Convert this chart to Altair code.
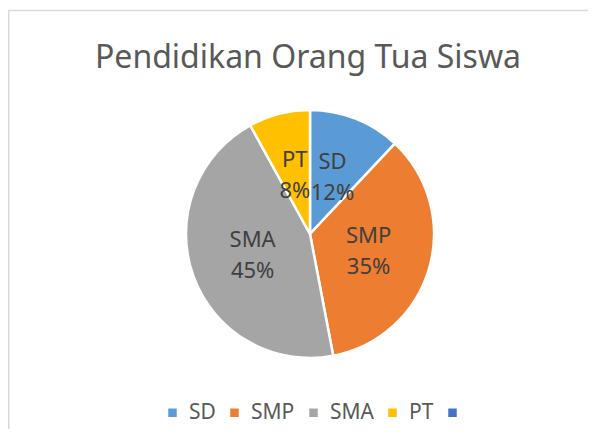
import altair as alt
import pandas as pd

# Data
categories = ["SD", "SMP", "SMA", "PT"]
values = [12, 35, 45, 8]
percent_labels = ["12%", "35%", "45%", "8%"]
legend_domain = ["SD", "SMP", "SMA", "PT", " "]
colors = ["#5B9BD5", "#ED7D31", "#A5A5A5", "#FFC000", "#4472C4"]

df = pd.DataFrame({
    "category": categories,
    "value": values,
    "idx": list(range(len(categories))),
    "label": [f"{c}\n{p}" for c, p in zip(categories, percent_labels)],
})

CX, CY = 302, 226
FONT = "Noto Sans"

base = alt.Chart(df).encode(
    theta=alt.Theta("value:Q", stack=True),
    order=alt.Order("idx:Q"),
)

arcs = base.mark_arc(outerRadius=124, stroke="white", strokeWidth=2.5).encode(
    x=alt.value(CX),
    y=alt.value(CY),
    color=alt.Color(
        "category:N",
        scale=alt.Scale(domain=legend_domain, range=colors),
        legend=alt.Legend(
            title=None,
            orient="none",
            direction="horizontal",
            legendX=154,
            legendY=394,
            symbolType="square",
            symbolSize=72,
            symbolStrokeWidth=0,
            labelFontSize=21,
            labelFont=FONT,
            labelColor="#595959",
            columnPadding=8,
            labelOffset=6,
        ),
    ),
)

texts = base.mark_text(
    radius=61, fontSize=22, font=FONT, color="#404040", lineBreak="\n",
    lineHeight=31, dy=-15
).encode(
    x=alt.value(CX),
    y=alt.value(CY),
    text="label:N",
)

frame_df = pd.DataFrame({"a": [0]})
top_line = alt.Chart(frame_df).mark_rule(color="#D9D9D9", strokeWidth=1.5).encode(
    x=alt.value(0), x2=alt.value(2000), y=alt.value(2.5)
)
left_line = alt.Chart(frame_df).mark_rule(color="#D9D9D9", strokeWidth=1.5).encode(
    x=alt.value(0.75), y=alt.value(2), y2=alt.value(2000)
)

chart = alt.layer(top_line, left_line, arcs, texts).properties(
    width=580,
    height=421,
    padding=0,
    autosize=alt.AutoSizeParams(type="none"),
    title=alt.Title(
        "Pendidikan Orang Tua Siswa",
        fontSize=32,
        font=FONT,
        fontWeight="normal",
        color="#595959",
        anchor="middle",
        frame="group",
        baseline="alphabetic",
        offset=0,
        dy=92,
        dx=10,
    ),
).configure_view(stroke=None)

chart.save("out.html", embed_options={"renderer": "svg", "actions": False})
